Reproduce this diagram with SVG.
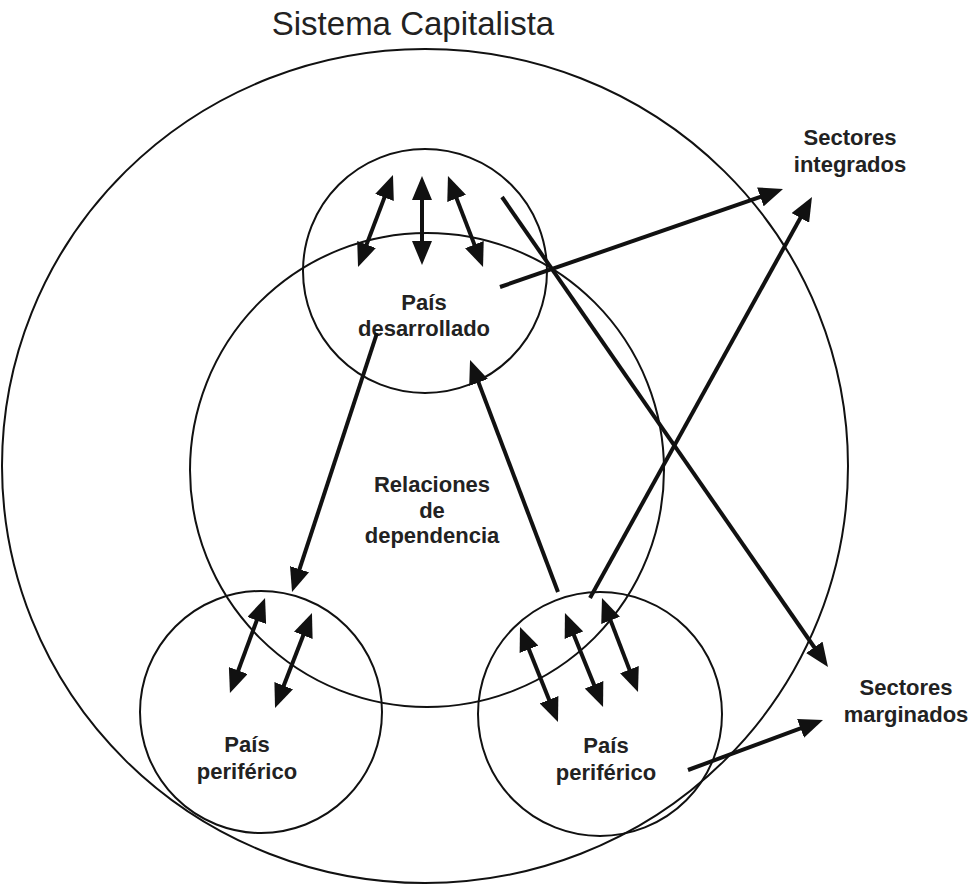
<svg xmlns="http://www.w3.org/2000/svg" width="977" height="886" viewBox="0 0 977 886">
<style>
.c{fill:none;stroke:#111;stroke-width:2}
.a{fill:none;stroke:#111;stroke-width:4}
.t{font-family:"Liberation Sans",Arial,sans-serif;font-weight:bold;font-size:22px;fill:#222;text-anchor:middle}
.title{font-family:"Liberation Sans",Arial,sans-serif;font-size:33px;fill:#222;text-anchor:middle}
</style>
<defs>
<marker id="h" markerUnits="userSpaceOnUse" markerWidth="24" markerHeight="20" refX="10" refY="10" orient="auto-start-reverse" viewBox="0 0 24 20">
<path d="M0,0 L24,10 L0,20 z" fill="#111"/>
</marker>
</defs>
<rect width="977" height="886" fill="#fff"/>
<g id="sistema">
<ellipse class="c" cx="425" cy="466" rx="423" ry="417"/>
<text class="title" x="413" y="35">Sistema Capitalista</text>
</g>
<g id="relaciones">
<circle class="c" cx="427" cy="470" r="237"/>
<text class="t" x="432" y="492">Relaciones</text>
<text class="t" x="432" y="518">de</text>
<text class="t" x="432" y="543">dependencia</text>
</g>
<g id="desarrollado">
<circle class="c" cx="425" cy="271" r="122"/>
<text class="t" x="424" y="310">País</text>
<text class="t" x="424" y="336">desarrollado</text>
</g>
<g id="periferico1">
<circle class="c" cx="261" cy="712" r="121"/>
<text class="t" x="247" y="752">País</text>
<text class="t" x="247" y="779">periférico</text>
</g>
<g id="periferico2">
<circle class="c" cx="600" cy="714" r="122"/>
<text class="t" x="606" y="753">País</text>
<text class="t" x="606" y="780">periférico</text>
</g>
<g id="integrados">
<text class="t" x="850" y="145">Sectores</text>
<text class="t" x="850" y="172">integrados</text>
</g>
<g id="marginados">
<text class="t" x="906" y="695">Sectores</text>
<text class="t" x="906" y="722">marginados</text>
</g>
<g id="connectors">
<line class="a" x1="363" y1="253.9" x2="388" y2="188.1" marker-start="url(#h)" marker-end="url(#h)"/>
<line class="a" x1="422" y1="251" x2="422" y2="190" marker-start="url(#h)" marker-end="url(#h)"/>
<line class="a" x1="478" y1="253.9" x2="453" y2="189.1" marker-start="url(#h)" marker-end="url(#h)"/>
<line class="a" x1="502" y1="197" x2="820" y2="655.5" marker-end="url(#h)"/>
<line class="a" x1="500" y1="287" x2="769.8" y2="193.6" marker-end="url(#h)"/>
<line class="a" x1="590" y1="598" x2="805.2" y2="209.2" marker-end="url(#h)"/>
<line class="a" x1="377" y1="333" x2="296.4" y2="578.7" marker-end="url(#h)"/>
<line class="a" x1="558" y1="592" x2="475" y2="373.1" marker-end="url(#h)"/>
<line class="a" x1="234.8" y1="679.9" x2="260.2" y2="611.1" marker-start="url(#h)" marker-end="url(#h)"/>
<line class="a" x1="280.1" y1="695" x2="306.9" y2="626" marker-start="url(#h)" marker-end="url(#h)"/>
<line class="a" x1="525.2" y1="640" x2="552.8" y2="709" marker-start="url(#h)" marker-end="url(#h)"/>
<line class="a" x1="570.2" y1="626" x2="597.8" y2="694" marker-start="url(#h)" marker-end="url(#h)"/>
<line class="a" x1="607" y1="611.1" x2="633" y2="678.9" marker-start="url(#h)" marker-end="url(#h)"/>
<line class="a" x1="688" y1="770" x2="809.9" y2="724.9" marker-end="url(#h)"/>
</g>
</svg>
